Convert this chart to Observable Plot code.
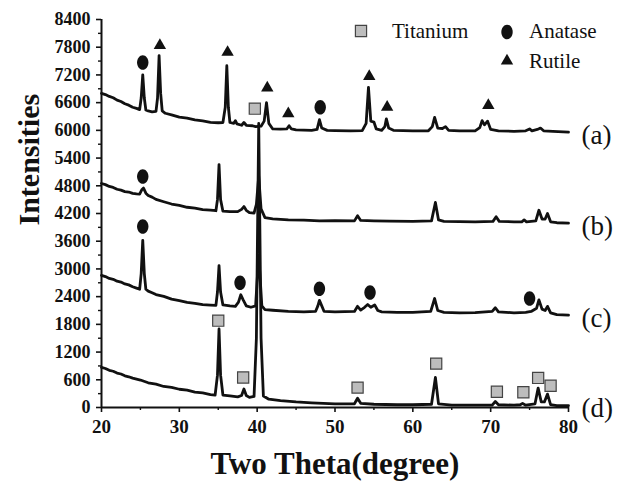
<!DOCTYPE html>
<html>
<head>
<meta charset="utf-8">
<script src="https://cdn.jsdelivr.net/npm/d3@7"></script>
<script src="https://cdn.jsdelivr.net/npm/@observablehq/plot@0.6"></script>
<style>
  html, body { margin: 0; padding: 0; background: #fff; }
  #wrap { position: relative; width: 629px; height: 481px; }
</style>
</head>
<body>
<div id="wrap"></div>
<script>
// ---------- data ----------
const xTicks = [20, 30, 40, 50, 60, 70, 80];
const xMinorTicks = [25, 35, 45, 55, 65, 75];
const yTicks = [0, 600, 1200, 1800, 2400, 3000, 3600, 4200, 4800, 5400, 6000, 6600, 7200, 7800, 8400];
const yMinorTicks = [300, 900, 1500, 2100, 2700, 3300, 3900, 4500, 5100, 5700, 6300, 6900, 7500, 8100];

const curveLabels = ["(a)", "(b)", "(c)", "(d)"];

const curveA = [
  [20,6800],[20.5,6775],[21,6735],[21.5,6705],[22,6655],[22.5,6625],[23,6575],[23.5,6545],[24,6500],[24.5,6475],
  [24.9,6450],[25.1,6700],[25.3,7200],[25.5,6700],[25.7,6440],[26,6420],[26.5,6400],[27,6410],[27.2,6700],[27.4,7620],
  [27.6,6800],[27.8,6420],[28.2,6370],[29,6335],[30,6285],[31,6265],[32,6225],[33,6205],[34,6175],[35,6165],
  [35.6,6170],[35.9,6500],[36.1,7400],[36.3,6500],[36.5,6170],[37,6150],[37.2,6210],[37.4,6140],[38,6110],[38.3,6170],
  [38.6,6110],[39.4,6100],[39.8,6080],[40.5,6090],[40.9,6200],[41.2,6600],[41.5,6150],[42,6030],[43,6025],[43.8,6030],
  [44.1,6100],[44.4,6030],[45,6010],[46,6005],[47,6000],[47.7,6020],[48.0,6230],[48.3,6050],[49,6000],[50,5995],
  [52,5990],[53.5,5995],[54,6150],[54.3,6930],[54.6,6200],[55.0,6180],[55.3,6030],[56,6000],[56.4,6080],[56.6,6250],
  [56.9,6050],[57.5,6000],[60,5990],[62,5990],[62.5,6080],[62.8,6280],[63.2,6050],[63.8,6040],[64.2,6080],[64.6,6000],
  [66,5990],[68,5990],[68.6,6060],[68.9,6210],[69.2,6120],[69.6,6200],[70,6020],[71,5990],[73,5980],[74.5,5990],
  [75,6030],[75.3,5990],[76,6020],[76.4,6050],[76.8,5990],[78,5980],[80,5960]
];
const curveB = [
  [20,4850],[20.5,4825],[21,4785],[21.5,4765],[22,4725],[22.5,4705],[23,4675],[23.5,4665],[24,4635],[24.5,4625],
  [24.9,4620],[25.2,4720],[25.4,4750],[25.7,4640],[26,4590],[26.5,4555],[27,4505],[28,4455],[29,4405],[30,4375],
  [31,4335],[32,4315],[33,4285],[34,4275],[34.7,4260],[34.9,4500],[35.1,5260],[35.3,4500],[35.6,4250],[36.5,4240],
  [37.5,4240],[38.0,4290],[38.3,4350],[38.6,4270],[39,4220],[39.6,4210],[39.9,4400],[40.2,5000],[40.5,4300],[41,4110],
  [42,4085],[44,4060],[46,4055],[48,4040],[50,4045],[52.5,4040],[52.9,4150],[53.3,4050],[55,4040],[57,4035],
  [60,4030],[62.4,4040],[62.9,4440],[63.3,4060],[64,4030],[66,4025],[68,4020],[70.3,4030],[70.7,4130],[71.1,4030],
  [73,4020],[74,4020],[74.3,4060],[74.6,4020],[75.8,4040],[76.2,4270],[76.6,4080],[77.0,4080],[77.3,4200],[77.7,4020],
  [78.5,4000],[80,3990]
];
const curveC = [
  [20,2860],[20.5,2835],[21,2795],[21.5,2775],[22,2735],[22.5,2715],[23,2675],[23.5,2655],[24,2615],[24.5,2585],
  [24.9,2560],[25.1,2900],[25.3,3620],[25.5,2900],[25.7,2560],[26,2520],[26.5,2485],[27,2445],[28,2405],[29,2345],
  [30,2315],[31,2275],[32,2255],[33,2225],[34,2215],[34.7,2210],[34.9,2500],[35.1,3070],[35.3,2500],[35.6,2220],
  [36.5,2200],[37.2,2190],[37.6,2280],[37.9,2440],[38.2,2330],[38.6,2200],[39.2,2170],[39.8,2200],[40.2,3300],[40.6,2200],
  [41,2120],[42,2105],[44,2080],[46,2070],[47.5,2080],[47.8,2200],[48.0,2320],[48.3,2200],[48.6,2080],[50,2070],
  [52.5,2080],[52.9,2190],[53.3,2110],[53.8,2170],[54.2,2230],[54.6,2170],[55.1,2220],[55.5,2100],[56,2070],[58,2060],
  [60,2060],[62.3,2080],[62.8,2360],[63.2,2100],[64,2060],[66,2050],[68,2055],[70.2,2080],[70.6,2160],[71,2070],
  [73,2050],[74.5,2060],[75.2,2080],[75.9,2150],[76.2,2330],[76.6,2130],[77,2100],[77.3,2190],[77.7,2050],[78.5,2010],
  [80,2000]
];
const curveD = [
  [20,870],[20.5,845],[21,805],[21.5,785],[22,745],[22.5,725],[23,685],[23.5,665],[24,635],[25,595],
  [26,535],[27,505],[28,455],[29,435],[30,395],[31,375],[32,335],[33,315],[34,280],[34.6,270],
  [34.9,700],[35.1,1700],[35.3,700],[35.6,270],[36.5,250],[37.5,230],[38.0,260],[38.3,400],[38.6,260],[39.0,220],
  [39.6,240],[39.9,1500],[40.2,6150],[40.5,1500],[40.8,250],[41.5,180],[43,150],[45,120],[47,100],[50,80],
  [52.5,80],[52.9,200],[53.3,90],[55,70],[58,60],[60,60],[62.4,70],[62.9,650],[63.3,80],[65,50],
  [68,50],[70.2,50],[70.6,130],[71,60],[73,50],[73.8,60],[74.1,90],[74.5,50],[75.7,80],[76.1,420],
  [76.5,120],[76.9,120],[77.3,290],[77.7,60],[78.5,40],[80,40]
];

const titaniumPeaks = [[39.7,6470],[35.0,1880],[38.2,650],[52.9,430],[63.0,950],[70.8,340],[74.2,330],[76.1,640],[77.7,470]];
const anatasePeaks = [[25.3,7470],[48.1,6500],[25.3,5000],[25.3,3920],[37.8,2700],[48.0,2570],[54.5,2490],[75.0,2360]];
const rutilePeaks = [[27.5,7840],[36.2,7690],[41.3,6920],[44.0,6360],[54.4,7170],[56.7,6500],[69.7,6540]];

const legendNames = ["Titanium", "Anatase", "Rutile"];

// ---------- build ----------
const curves = [curveA, curveB, curveC, curveD];
const rows = curves.flatMap((c, i) => c.map(([x, y]) => ({x, y, curve: curveLabels[i]})));
const labelRows = curves.map((c, i) => ({x: c[c.length - 1][0], y: c[c.length - 1][1], label: curveLabels[i]}));
const toObj = (arr) => arr.map(([x, y]) => ({x, y}));

const ellipse = {
  draw(ctx, size) {
    const ry = Math.sqrt(size / Math.PI), rx = ry * 0.78, k = 0.5523;
    ctx.moveTo(rx, 0);
    ctx.bezierCurveTo(rx, ry * k, rx * k, ry, 0, ry);
    ctx.bezierCurveTo(-rx * k, ry, -rx, ry * k, -rx, 0);
    ctx.bezierCurveTo(-rx, -ry * k, -rx * k, -ry, 0, -ry);
    ctx.bezierCurveTo(rx * k, -ry, rx, -ry * k, rx, 0);
    ctx.closePath();
  }
};

const FONT = "'Liberation Serif', 'Times New Roman', serif";
const INK = "#111";
const fmt = (d) => String(d);

const chart = Plot.plot({
  width: 629,
  height: 481,
  marginLeft: 101,
  marginRight: 61,
  marginTop: 19,
  marginBottom: 74,
  style: {fontFamily: FONT, background: "#fff", color: INK},
  x: {domain: [20, 80]},
  y: {domain: [0, 8400]},
  marks: [
    Plot.axisX({ticks: xTicks, tickFormat: fmt, tickSize: 5, tickPadding: 7, fontSize: 19, fontWeight: "bold", fontFamily: FONT, strokeWidth: 1.6, label: null}),
    Plot.axisX({ticks: xMinorTicks, tickSize: 3, text: null, strokeWidth: 1.4, label: null}),
    Plot.axisY({ticks: yTicks, tickFormat: fmt, tickSize: 5, tickPadding: 6, fontSize: 18, fontWeight: "bold", fontFamily: FONT, strokeWidth: 1.6, label: null}),
    Plot.axisY({ticks: yMinorTicks, tickSize: 3, text: null, strokeWidth: 1.4, label: null}),
    Plot.ruleX([20], {stroke: INK, strokeWidth: 2}),
    Plot.ruleY([0], {stroke: INK, strokeWidth: 2}),
    Plot.line(rows, {x: "x", y: "y", z: "curve", stroke: INK, strokeWidth: 2.8, strokeLinejoin: "round"}),
    Plot.dot(toObj(titaniumPeaks), {x: "x", y: "y", symbol: "square", r: 6.3, fill: "#bdbdbd", stroke: "#444", strokeWidth: 1.2}),
    Plot.dot(toObj(anatasePeaks), {x: "x", y: "y", symbol: ellipse, r: 7.3, fill: INK, stroke: "none"}),
    Plot.dot(toObj(rutilePeaks), {x: "x", y: "y", symbol: "triangle", r: 4.6, fill: INK, stroke: "none"}),
    Plot.text(labelRows, {x: "x", y: "y", text: "label", textAnchor: "start", dx: 13, dy: 3, fontSize: 27, fontFamily: FONT, fill: INK}),
    Plot.text(["Intensities"], {frameAnchor: "left", rotate: -90, dx: -72, dy: 12, fontSize: 30, fontWeight: "bold", fontFamily: FONT, fill: INK, lineAnchor: "middle"}),
    Plot.text(["Two Theta(degree)"], {frameAnchor: "bottom", dy: 57, fontSize: 31, fontWeight: "bold", fontFamily: FONT, fill: INK, lineAnchor: "middle"})
  ]
});

document.getElementById("wrap").appendChild(chart);

// ---------- legend (drawn into the chart svg) ----------
const svg = d3.select(chart);
const leg = svg.append("g").attr("font-family", FONT).attr("font-size", 21).attr("fill", INK).attr("text-anchor", "start");
const sq = d3.symbol(d3.symbolSquare, Math.PI * 6.3 * 6.3)();
const tri = d3.symbol(d3.symbolTriangle, Math.PI * 4.6 * 4.6)();
const ell = d3.symbol(ellipse, Math.PI * 7.3 * 7.3)();
const items = [
  {sym: sq, cx: 361, cy: 31, tx: 392, ty: 38, fill: "#bdbdbd", stroke: "#444"},
  {sym: ell, cx: 507, cy: 32, tx: 529, ty: 38, fill: INK, stroke: "none"},
  {sym: tri, cx: 507, cy: 61, tx: 529, ty: 68, fill: INK, stroke: "none"}
];
items.forEach((it, i) => {
  leg.append("path").attr("d", it.sym).attr("transform", `translate(${it.cx},${it.cy})`)
    .attr("fill", it.fill).attr("stroke", it.stroke).attr("stroke-width", 1.2);
  leg.append("text").attr("x", it.tx).attr("y", it.ty).attr("text-anchor", "start").text(legendNames[i]);
});
</script>
</body>
</html>
